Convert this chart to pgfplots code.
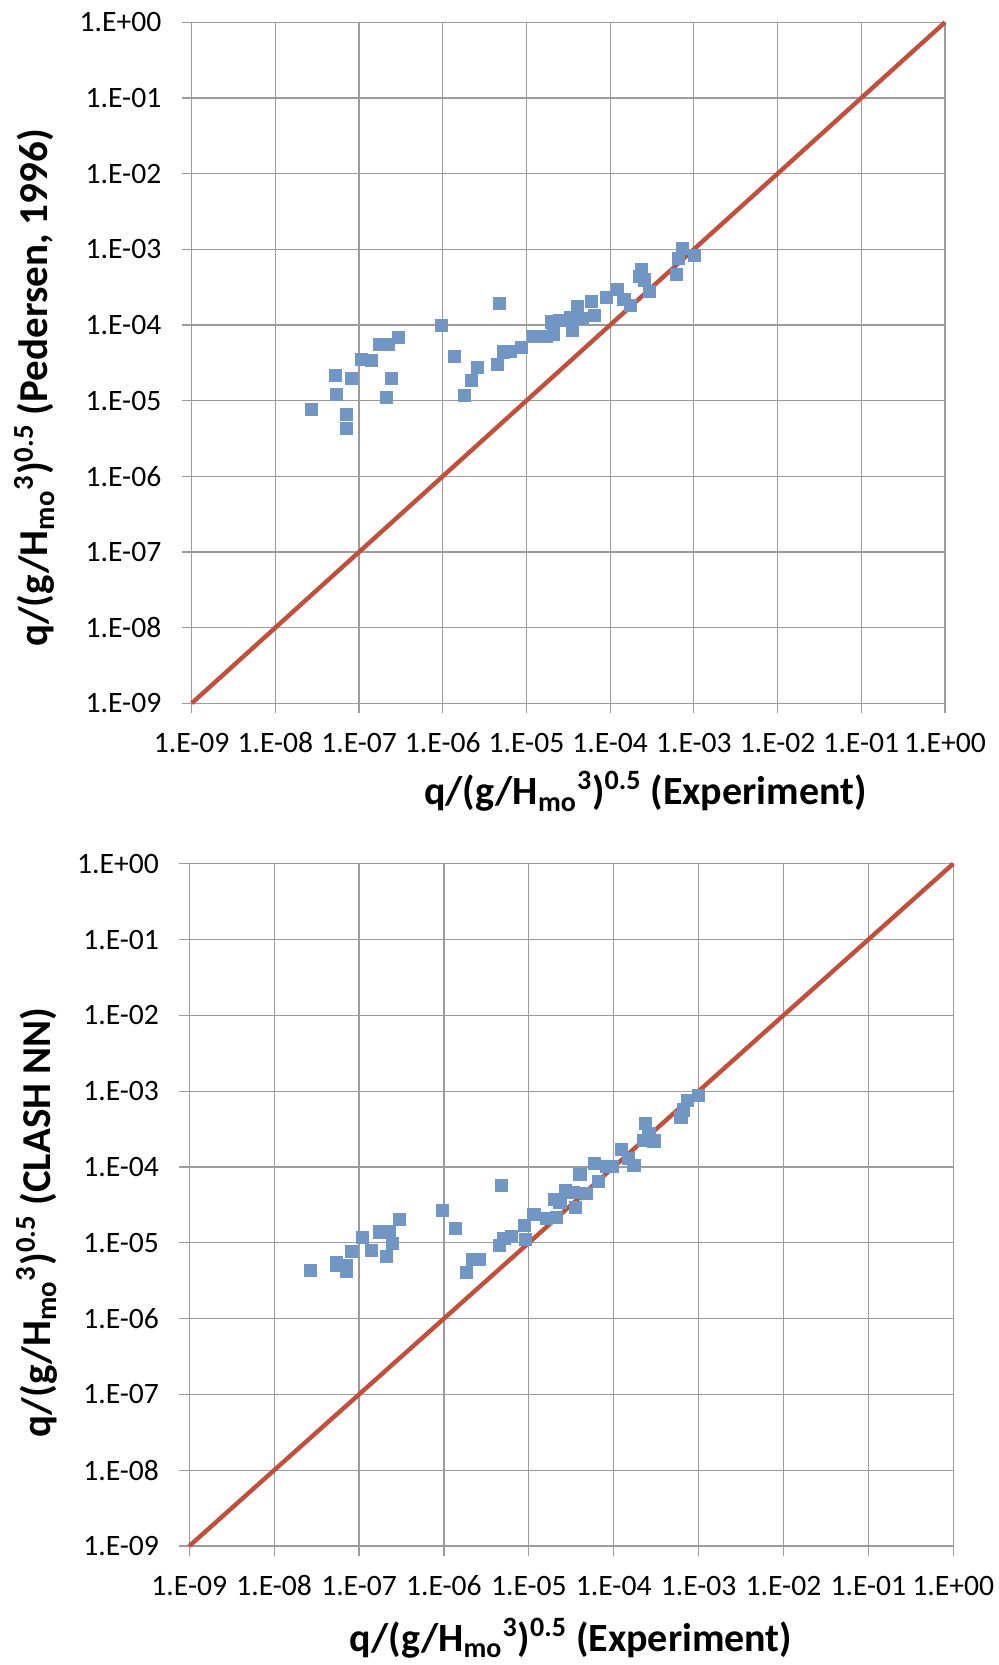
\documentclass[border=0pt]{standalone}
\usepackage{pgfplots}
\pgfplotsset{compat=1.18}
\usepackage{fontspec}
\setmainfont{Carlito}
\definecolor{ptblue}{RGB}{114,150,195}
\definecolor{lnred}{RGB}{192,80,60}
\definecolor{grd}{RGB}{155,155,155}
\pgfplotsset{
  mystyle/.style={
    scale only axis,
    xmin=1e-9, xmax=1, ymin=1e-9, ymax=1,
    xtick={1e-9,1e-8,1e-7,1e-6,1e-5,1e-4,1e-3,1e-2,1e-1,1},
    ytick={1e-9,1e-8,1e-7,1e-6,1e-5,1e-4,1e-3,1e-2,1e-1,1},
    xticklabels={1.E-09,1.E-08,1.E-07,1.E-06,1.E-05,1.E-04,1.E-03,1.E-02,1.E-01,1.E+00},
    yticklabels={1.E-09,1.E-08,1.E-07,1.E-06,1.E-05,1.E-04,1.E-03,1.E-02,1.E-01,1.E+00},
    grid=major, major grid style={grd, line width=0.6pt},
    axis line style={grd, line width=0.6pt},
    tick style={grd, line width=0.6pt},
    tick align=outside, major tick length=5pt,
    minor tick length=0pt, minor tick style={draw=none},
    xtick pos=bottom, ytick pos=left,
    ticklabel style={font=\fontsize{14.8}{17}\selectfont, inner sep=0pt},
    xticklabel style={anchor=base, yshift=-19.75pt},
    yticklabel style={anchor=east, xshift=-10pt},
    clip=false,
  },
  blue marks/.style={only marks, mark=square*, mark size=3.05pt, color=ptblue, mark options={draw=ptblue, fill=ptblue, line width=0.4pt}},
  red line/.style={lnred, line width=2.2pt, no marks},
}
\begin{document}
\begin{tikzpicture}
\path[use as bounding box] (0,0) rectangle (499pt,832.5pt);
\begin{loglogaxis}[mystyle, at={(95.85pt,480.85pt)}, anchor=south west,
  width=376.65pt, height=340.5pt,
  xlabel={q/(g/H\textsubscript{mo}\textsuperscript{3})\textsuperscript{0.5} (Experiment)},
  ylabel={q/(g/H\textsubscript{mo}\textsuperscript{3})\textsuperscript{0.5} (Pedersen, 1996)},
  every axis x label/.style={at={(axis description cs:0.6024,0)}, anchor=base, yshift=-50.85pt, font=\fontsize{20}{24}\selectfont\bfseries},
  every axis y label/.style={at={(axis description cs:-0.1908,0.463)}, rotate=90, anchor=base, font=\fontsize{20.5}{24}\selectfont\bfseries},
]
\addplot[red line] coordinates {(1e-9,1e-9) (1,1)};
\addplot[blue marks] coordinates {
(4.73e-6,1.94e-4) (9.59e-7,9.91e-5) (2.94e-7,6.87e-5) (1.74e-7,5.56e-5) (2.23e-7,5.56e-5)
(1.06e-7,3.52e-5) (1.40e-7,3.41e-5) (5.20e-8,2.16e-5) (8.07e-8,1.97e-5) (2.43e-7,1.97e-5)
(1.37e-6,3.85e-5) (2.58e-6,2.76e-5) (2.19e-6,1.87e-5) (4.48e-6,3.02e-5) (5.28e-6,4.40e-5)
(5.35e-8,1.21e-5) (2.11e-7,1.11e-5) (1.81e-6,1.18e-5) (2.69e-8,7.69e-6) (7.03e-8,6.61e-6)
(7.03e-8,4.32e-6)
(7.21e-4,1.03e-3) (6.58e-4,7.60e-4) (1.01e-3,8.34e-4) (6.17e-4,4.68e-4) (2.36e-4,5.33e-4)
(2.27e-4,4.35e-4) (2.58e-4,3.93e-4) (2.93e-4,2.81e-4) (1.23e-4,2.96e-4) (9.08e-5,2.29e-4)
(1.46e-4,2.18e-4) (1.76e-4,1.82e-4) (5.90e-5,2.07e-4) (6.46e-5,1.34e-4) (4.05e-5,1.75e-4)
(3.31e-5,1.26e-4) (4.60e-5,1.22e-4) (2.51e-5,1.16e-4) (1.98e-5,1.10e-4) (3.52e-5,8.59e-5)
(2.09e-5,7.60e-5) (1.21e-5,7.14e-5) (1.74e-5,7.14e-5) (8.77e-6,5.07e-5) (6.35e-6,4.44e-5)
};
\end{loglogaxis}
\begin{loglogaxis}[mystyle, at={(94.65pt,59.5pt)}, anchor=south west,
  width=382pt, height=341.15pt,
  xlabel={q/(g/H\textsubscript{mo}\textsuperscript{3})\textsuperscript{0.5} (Experiment)},
  ylabel={q/(g/H\textsubscript{mo}\textsuperscript{3})\textsuperscript{0.5} (CLASH NN)},
  every axis x label/.style={at={(axis description cs:0.4996,0)}, anchor=base, yshift=-52.85pt, font=\fontsize{20}{24}\selectfont\bfseries},
  every axis y label/.style={at={(axis description cs:-0.1823,0.474)}, rotate=90, anchor=base, font=\fontsize{20.5}{24}\selectfont\bfseries},
]
\addplot[red line] coordinates {(1e-9,1e-9) (1,1)};
\addplot[blue marks] coordinates {
(4.73e-6,5.73e-5) (9.55e-7,2.68e-5) (1.36e-6,1.55e-5) (2.97e-7,2.04e-5) (1.73e-7,1.39e-5)
(2.27e-7,1.39e-5) (1.09e-7,1.18e-5) (2.46e-7,9.84e-6) (1.39e-7,8.02e-6) (8.09e-8,7.71e-6)
(2.09e-7,6.68e-6) (5.38e-8,5.46e-6) (5.38e-8,5.05e-6) (7.06e-8,4.98e-6) (7.06e-8,4.24e-6)
(2.66e-8,4.34e-6) (4.53e-6,9.25e-6) (5.09e-6,1.13e-5) (2.18e-6,6.05e-6) (2.58e-6,6.05e-6)
(1.82e-6,4.07e-6)
(9.89e-4,8.89e-4) (7.35e-4,7.64e-4) (6.59e-4,5.64e-4) (6.19e-4,4.47e-4) (2.35e-4,3.77e-4)
(2.60e-4,2.78e-4) (2.22e-4,2.26e-4) (2.98e-4,2.20e-4) (1.24e-4,1.71e-4) (1.48e-4,1.30e-4)
(1.73e-4,1.05e-4) (8.24e-5,1.02e-4) (9.70e-5,1.02e-4) (5.89e-5,1.12e-4) (6.56e-5,6.52e-5)
(4.00e-5,8.00e-5) (2.69e-5,4.86e-5) (3.33e-5,4.57e-5) (4.80e-5,4.49e-5) (1.98e-5,3.74e-5)
(2.32e-5,3.37e-5) (3.52e-5,2.94e-5) (1.15e-5,2.39e-5) (1.62e-5,2.10e-5) (2.13e-5,2.17e-5)
(8.83e-6,1.70e-5) (6.27e-6,1.20e-5) (9.16e-6,1.12e-5)
};
\end{loglogaxis}
\end{tikzpicture}
\end{document}
